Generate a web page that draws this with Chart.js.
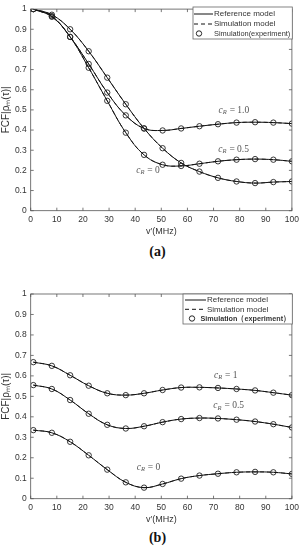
<!DOCTYPE html>
<html>
<head>
<meta charset="utf-8">
<script src="https://cdn.jsdelivr.net/npm/chart.js@4.4.1/dist/chart.umd.min.js"></script>
<style>
body{margin:0;background:#fff;width:303px;height:550px;position:relative;overflow:hidden}
.box{position:absolute;left:0;width:303px}
#boxA{top:0;height:240px}
#boxB{top:270px;height:258px}
.cap{position:absolute;left:0;width:315px;text-align:center;font:bold 14px "Liberation Serif","DejaVu Serif",serif;color:#111}
</style>
</head>
<body>
<div class="box" id="boxA"><canvas id="chartA" width="303" height="240"></canvas></div>
<div class="cap" style="top:244px">(a)</div>
<div class="box" id="boxB"><canvas id="chartB" width="303" height="258"></canvas></div>
<div class="cap" style="top:530px">(b)</div>
<script>
// frequency points (MHz)
var freq = [1, 8.1, 15.1, 22.2, 29.3, 36.4, 43.4, 50.5, 57.6, 64.6, 71.7, 78.8, 85.9, 92.9, 100];

// (a)
var a_cR1  = [1.0, 0.965, 0.862, 0.728, 0.586, 0.473, 0.408, 0.398, 0.408, 0.419, 0.429, 0.437, 0.439, 0.437, 0.432];
var a_cR05 = [1.0, 0.962, 0.862, 0.709, 0.545, 0.387, 0.277, 0.228, 0.222, 0.233, 0.245, 0.253, 0.256, 0.253, 0.245];
var a_cR0  = [1.0, 0.972, 0.900, 0.791, 0.660, 0.528, 0.408, 0.310, 0.237, 0.194, 0.163, 0.145, 0.137, 0.142, 0.145];

// (b)
var b_cR1  = [0.667, 0.649, 0.603, 0.552, 0.515, 0.506, 0.515, 0.531, 0.543, 0.544, 0.541, 0.536, 0.529, 0.518, 0.506];
var b_cR05 = [0.555, 0.536, 0.482, 0.415, 0.361, 0.343, 0.354, 0.374, 0.389, 0.394, 0.392, 0.386, 0.377, 0.364, 0.348];
var b_cR0  = [0.335, 0.322, 0.278, 0.212, 0.142, 0.080, 0.054, 0.072, 0.098, 0.113, 0.122, 0.129, 0.131, 0.129, 0.121];

var yTicks = [0, 0.1, 0.2, 0.3, 0.4, 0.5, 0.6, 0.7, 0.8, 0.9, 1];
var xTicks = [0, 10, 20, 30, 40, 50, 60, 70, 80, 90, 100];

var legendA = ['Reference model', 'Simulation model', 'Simulation(experiment)'];
var legendB = ['Reference model', 'Simulation model', 'Simulation\uFF08experiment\uFF09'];

var notesA = [{v: '1.0', x: 77.7, y: 0.497}, {v: '0.5', x: 77.6, y: 0.305}, {v: '0', x: 44.8, y: 0.199}];
var notesB = [{v: '1', x: 74.6, y: 0.602}, {v: '0.5', x: 75.7, y: 0.453}, {v: '0', x: 45, y: 0.151}];

var sans = '"Liberation Sans", Arial, sans-serif';
var serif = '"Liberation Serif", "DejaVu Serif", serif';

function pts(ys) {
    return ys.map(function (y, i) { return {x: freq[i], y: y}; });
}

function buildSets(list) {
    var sets = [];
    list.forEach(function (ys) {
        sets.push({data: pts(ys), borderColor: '#111', borderWidth: 1, pointRadius: 0, tension: 0.4, fill: false});
        sets.push({data: pts(ys), borderColor: '#333', borderWidth: 1, borderDash: [4, 3], pointRadius: 0, tension: 0.4, fill: false});
        sets.push({data: pts(ys), showLine: false, pointRadius: 2.7, pointBorderWidth: 0.9,
            pointBorderColor: '#222', pointBackgroundColor: 'rgba(0,0,0,0)'});
    });
    return sets;
}

// box, inward ticks, legend and c_R notes
var decor = {
    id: 'decor',
    afterDatasetsDraw: function (chart) {
        var c = chart.ctx, a = chart.chartArea, sx = chart.scales.x, sy = chart.scales.y;
        var o = chart.options.plugins.decor;
        c.save();
        c.strokeStyle = '#555';
        c.lineWidth = 0.8;
        c.strokeRect(a.left, a.top, a.right - a.left, a.bottom - a.top);
        c.beginPath();
        xTicks.forEach(function (t) {
            var px = sx.getPixelForValue(t);
            c.moveTo(px, a.bottom); c.lineTo(px, a.bottom - 3);
            c.moveTo(px, a.top); c.lineTo(px, a.top + 3);
        });
        yTicks.forEach(function (t) {
            var py = sy.getPixelForValue(t);
            c.moveTo(a.left, py); c.lineTo(a.left + 3, py);
            c.moveTo(a.right, py); c.lineTo(a.right - 3, py);
        });
        c.stroke();

        // c_R labels
        c.fillStyle = '#555';
        c.textBaseline = 'middle';
        o.notes.forEach(function (n) {
            var f1 = 'italic 9.5px ' + serif, f2 = 'italic 6.5px ' + serif, f3 = '9.5px ' + serif;
            var rest = ' = ' + n.v;
            c.font = f1; var w1 = c.measureText('c').width;
            c.font = f2; var w2 = c.measureText('R').width;
            c.font = f3; var w3 = c.measureText(rest).width;
            var px = sx.getPixelForValue(n.x) - (w1 + w2 + w3) / 2;
            var py = sy.getPixelForValue(n.y);
            c.textAlign = 'left';
            c.font = f1; c.fillText('c', px, py);
            c.font = f2; c.fillText('R', px + w1, py + 2);
            c.font = f3; c.fillText(rest, px + w1 + w2 + 0.5, py);
        });

        // legend
        var L = o.legend;
        c.fillStyle = '#fff';
        c.fillRect(L.x1, L.y1, L.x2 - L.x1, L.y2 - L.y1);
        c.strokeStyle = '#666';
        c.lineWidth = 0.8;
        c.strokeRect(L.x1, L.y1, L.x2 - L.x1, L.y2 - L.y1);
        c.strokeStyle = '#111';
        c.lineWidth = 1;
        c.beginPath();
        c.moveTo(L.s1, L.rows[0]); c.lineTo(L.s2, L.rows[0]);
        c.stroke();
        c.setLineDash([4, 3]);
        c.beginPath();
        c.moveTo(L.s1, L.rows[1]); c.lineTo(L.s2, L.rows[1]);
        c.stroke();
        c.setLineDash([]);
        c.lineWidth = 0.9;
        c.beginPath();
        c.arc(L.cx, L.rows[2], 2.7, 0, Math.PI * 2);
        c.stroke();
        c.fillStyle = '#333';
        c.textAlign = 'left';
        L.text.forEach(function (t, i) {
            c.font = (i == 2 && L.bold ? 'bold ' : '') + '8px ' + sans;
            if (i == 2) c.fillText(t, L.tx3, L.rows[i], L.x2 - 2 - L.tx3);
            else c.fillText(t, L.tx, L.rows[i]);
        });
        c.restore();
    }
};

function makeChart(id, list, padTop, notes, legend) {
    return new Chart(document.getElementById(id), {
        type: 'line',
        data: {datasets: buildSets(list)},
        plugins: [decor],
        options: {
            responsive: false,
            animation: false,
            layout: {padding: {top: padTop, right: 10.7, left: 0, bottom: 0}},
            plugins: {
                legend: {display: false},
                tooltip: {enabled: false},
                decor: {notes: notes, legend: legend}
            },
            scales: {
                x: {
                    type: 'linear', min: 0, max: 100,
                    afterBuildTicks: function (s) { s.ticks = xTicks.map(function (v) { return {value: v}; }); },
                    ticks: {font: {size: 8.5, family: sans}, color: '#333', padding: 4, maxRotation: 0},
                    grid: {display: false, drawTicks: false},
                    border: {display: false},
                    title: {display: true, text: 'v\u2032(MHz)', font: {size: 9, family: sans}, color: '#333', padding: {top: 0, bottom: 3}},
                    afterFit: function (s) { s.height = 29.3; }
                },
                y: {
                    type: 'linear', min: 0, max: 1,
                    afterBuildTicks: function (s) { s.ticks = yTicks.map(function (v) { return {value: v}; }); },
                    ticks: {font: {size: 8.5, family: sans}, color: '#333', padding: 4,
                        callback: function (v) { return String(+v.toFixed(1)); }},
                    grid: {display: false, drawTicks: false},
                    border: {display: false},
                    title: {display: true, text: 'FCF|\u03C1\u2098(\u03C4)|', font: {size: 10, family: sans}, color: '#333', padding: {top: 0, bottom: 0}},
                    afterFit: function (s) { s.width = 30.7; }
                }
            }
        }
    });
}

var chartA = makeChart('chartA', [a_cR1, a_cR05, a_cR0], 6.3, notesA,
    {x1: 193, y1: 7, x2: 292.3, y2: 39, rows: [14, 24, 33.5], s1: 194, s2: 213, cx: 199, tx: 214, tx3: 214, text: legendA, bold: false});
var chartB = makeChart('chartB', [b_cR1, b_cR05, b_cR0], 24, notesB,
    {x1: 183, y1: 24, x2: 292.3, y2: 54, rows: [30, 39.3, 48.5], s1: 185, s2: 206, cx: 192, tx: 207, tx3: 200.5, text: legendB, bold: true});
</script>
</body>
</html>
